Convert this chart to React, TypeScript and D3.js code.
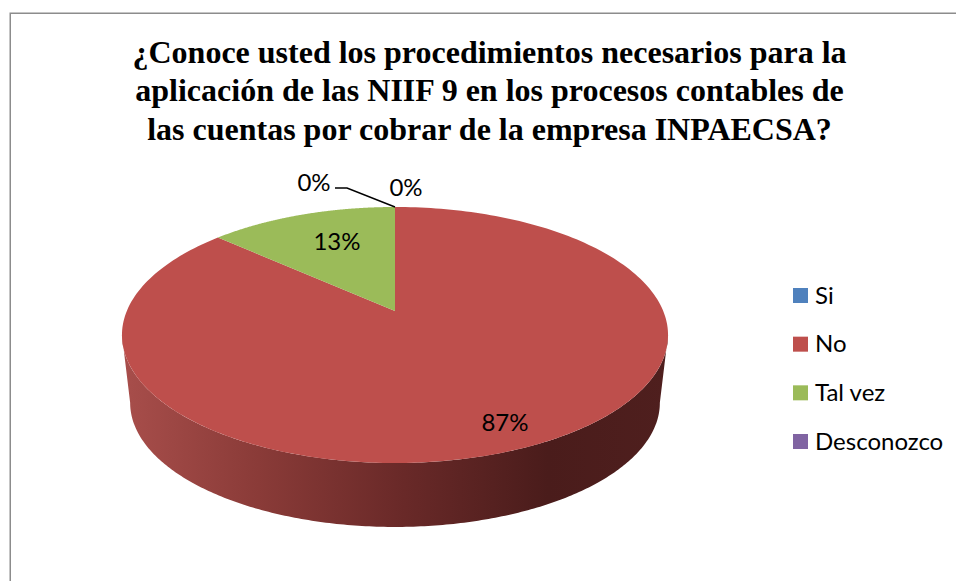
import { useEffect, useRef } from "react";
import * as d3 from "d3";

const categories = ["Si", "No", "Tal vez", "Desconozco"];
const counts = [0, 13, 2, 0];
const percentLabels = ["0%", "87%", "13%", "0%"];
const colors = ["#4f81bd", "#be4f4c", "#9bbb59", "#8064a2"];
const titleLines = [
  "¿Conoce usted los procedimientos necesarios para la",
  "aplicación de las NIIF 9 en los procesos contables de",
  "las cuentas por cobrar de la empresa INPAECSA?",
];

const width = 956;
const height = 581;

// 3D look: circle in the plane of the pie, pushed through a small perspective
const cx = 395;
const cy = 311;
const rx = 268.2;
const ry = 123.5;
const persp = 0.1875;
const depth = 68.5;
const bottomScale = 0.97;

function project(angle: number, r = 1) {
  const u = Math.sin(angle) * r;
  const v = Math.cos(angle) * r;
  const w = 1 + persp * v;
  return [cx + (rx * u) / w, cy - (ry * v) / w] as [number, number];
}

function projectBottom(angle: number) {
  const [x, y] = project(angle);
  return [cx + (x - cx) * bottomScale, y + depth + (y - cy) * (bottomScale - 1)] as [number, number];
}

export default function App() {
  const ref = useRef<SVGSVGElement>(null);

  useEffect(() => {
    const svg = d3.select(ref.current);
    svg.selectAll("*").remove();

    // frame
    svg
      .append("rect")
      .attr("x", 10.25)
      .attr("y", 13.25)
      .attr("width", 960)
      .attr("height", 600)
      .attr("fill", "#fff")
      .attr("stroke", "#8c8c8c")
      .attr("stroke-width", 1.5);

    // title
    svg
      .append("g")
      .selectAll("text")
      .data(titleLines)
      .enter()
      .append("text")
      .attr("x", 489.5)
      .attr("y", (d, i) => 62.5 + i * 38.5)
      .attr("text-anchor", "middle")
      .attr("font-family", "Liberation Serif")
      .attr("font-weight", "bold")
      .attr("font-size", 32)
      .attr("fill", "#000")
      .text((d) => d);

    const defs = svg.append("defs");
    const grad = defs
      .append("linearGradient")
      .attr("id", "wall")
      .attr("gradientUnits", "userSpaceOnUse")
      .attr("x1", 122)
      .attr("x2", 668)
      .attr("y1", 0)
      .attr("y2", 0);
    const wallStops: [number, string][] = [
      [0, "#a84e4b"],
      [0.25, "#8a3b38"],
      [0.5, "#6b2a29"],
      [0.78, "#4a1c1b"],
      [1, "#4f1f1e"],
    ];
    wallStops.forEach(([o, c]) => grad.append("stop").attr("offset", o).attr("stop-color", c));

    const arcs = d3
      .pie<number>()
      .sort(null)
      .value((d) => d)(counts);

    const line = d3.line();
    const sample = (a0: number, a1: number, n = 240) =>
      d3.range(n + 1).map((i) => a0 + ((a1 - a0) * i) / n);

    // front wall, only the big slice shows here
    // starts where the ellipse is widest, that is where the side edges leave it
    const widest = Math.acos(-persp);
    const front = sample(widest, Math.PI * 2 - widest);
    const wallPts = [...front.map((a) => project(a)), ...front.slice().reverse().map((a) => projectBottom(a))];
    svg
      .append("path")
      .attr("d", line(wallPts) + "Z")
      .attr("fill", "url(#wall)");

    // top face
    arcs.forEach((a, i) => {
      if (a.endAngle - a.startAngle <= 0) return;
      const pts = [[cx, cy] as [number, number], ...sample(a.startAngle, a.endAngle).map((t) => project(t))];
      svg
        .append("path")
        .attr("d", line(pts) + "Z")
        .attr("fill", colors[i]);
    });

    // data labels
    const labelPos: [number, number][] = [
      [406, 187],
      [505, 422],
      [337, 241],
      [314, 182],
    ];
    percentLabels.forEach((t, i) => {
      svg
        .append("text")
        .attr("x", labelPos[i][0])
        .attr("y", labelPos[i][1])
        .attr("dy", "0.36em")
        .attr("text-anchor", "middle")
        .attr("font-family", "Lato")
        .attr("font-size", 24)
        .attr("fill", "#000")
        .text(t);
    });

    // leader for the 0% on the left
    svg
      .append("path")
      .attr("d", line([[335, 188], [347, 188], [395, 207]]))
      .attr("fill", "none")
      .attr("stroke", "#000")
      .attr("stroke-width", 1.5);

    // legend
    const legendY = d3.scalePoint().domain(categories).range([295, 441]);
    const legend = svg
      .append("g")
      .selectAll("g")
      .data(categories)
      .enter()
      .append("g")
      .attr("transform", (d) => `translate(793,${legendY(d)})`);
    legend
      .append("rect")
      .attr("x", 0)
      .attr("y", -7)
      .attr("width", 15)
      .attr("height", 15)
      .attr("fill", (d, i) => colors[i]);
    legend
      .append("text")
      .attr("x", 22)
      .attr("dy", "0.36em")
      .attr("font-family", "Lato")
      .attr("font-size", 24)
      .attr("fill", "#000")
      .text((d) => d);
  }, []);

  return (
    <svg
      ref={ref}
      width={width}
      height={height}
      style={{ position: "absolute", left: 0, top: 0, display: "block" }}
    ></svg>
  );
}
